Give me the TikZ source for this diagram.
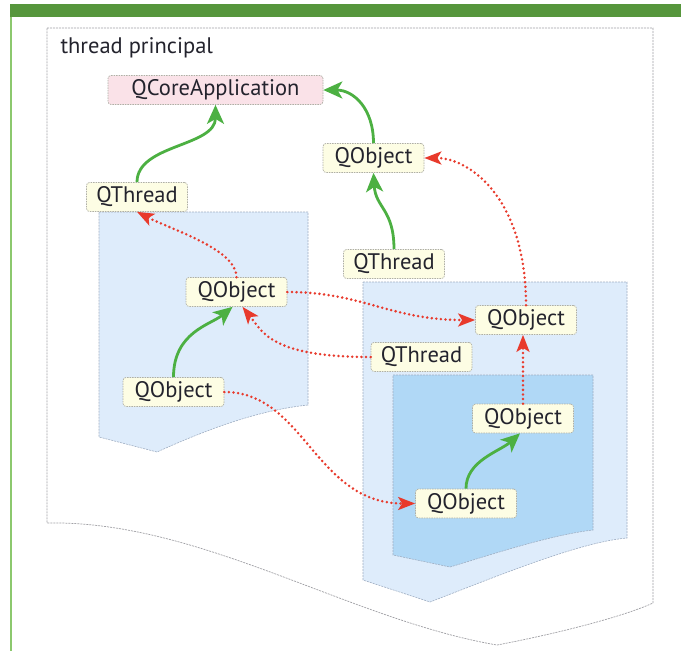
\documentclass[tikz,border=0pt]{standalone}
\usepackage{fontspec}
\setmainfont{PT Sans}
\usetikzlibrary{arrows.meta}

\definecolor{barGreen}{RGB}{86,150,60}
\definecolor{sideGreen}{RGB}{140,200,110}
\definecolor{frameGray}{RGB}{160,160,165}
\definecolor{zoneEdge}{RGB}{160,175,195}
\definecolor{paleBlue}{RGB}{222,236,251}
\definecolor{deepBlue}{RGB}{176,216,246}
\definecolor{boxFill}{RGB}{253,253,228}
\definecolor{appFill}{RGB}{250,226,232}
\definecolor{boxEdge}{RGB}{175,175,165}
\definecolor{inkText}{RGB}{35,35,45}
\definecolor{linkGreen}{RGB}{76,176,66}
\definecolor{linkRed}{RGB}{232,58,44}

\tikzset{
  obj/.style={draw=boxEdge, line width=0.7pt, dash pattern=on 1.5pt off 1pt,
    fill=boxFill, rounded corners=3pt, minimum width=101pt, minimum height=29pt,
    inner sep=0pt, text=inkText, font=\fontsize{22.5}{26}\selectfont},
  zone/.style={draw=zoneEdge, line width=0.6pt, dash pattern=on 2pt off 1pt},
  parent/.style={draw=linkGreen, line width=2.8pt,
    -{Stealth[length=19pt,width=17pt,inset=5pt]}},
  affinity/.style={draw=linkRed, line width=2.8pt, line cap=round,
    dash pattern=on 0pt off 4.6pt,
    -{Stealth[length=17pt,width=13pt,inset=4pt]}},
}

\begin{document}
\begin{tikzpicture}[x=1pt,y=-1pt]
\useasboundingbox (0,0) rectangle (681,651);
\fill[white] (0,0) rectangle (681,651);

% page decoration: green header bar and left rule
\fill[barGreen] (10,4) rectangle (681,17);
\draw[sideGreen, line width=1.5pt] (11,17) -- (11,651);

% main thread frame with wavy bottom
\draw[draw=frameGray, line width=0.7pt, dash pattern=on 2pt off 1pt]
  (47,28) -- (653,28) -- (653,603)
  .. controls (620,618) and (550,635) .. (497,645)
  .. controls (350,620) and (200,520) .. (47,523) -- cycle;
\node[anchor=base west, text=inkText, font=\fontsize{22.5}{26}\selectfont]
  (title) at (57,53) {thread principal};

% thread zones
\fill[paleBlue] (99,212) -- (308,212) -- (308,405)
  .. controls (260,410) and (210,428) .. (157,452) -- (99,437) -- cycle;
\draw[zone] (99,212) -- (308,212) -- (308,405)
  .. controls (260,410) and (210,428) .. (157,452) -- (99,437) -- cycle;

\fill[paleBlue] (363,282) -- (627,282) -- (627,538)
  .. controls (580,542) and (500,575) .. (430,602) -- (363,580) -- cycle;
\draw[zone] (363,282) -- (627,282) -- (627,538)
  .. controls (580,542) and (500,575) .. (430,602) -- (363,580) -- cycle;

\fill[deepBlue] (393,375) -- (593,375) -- (593,530)
  .. controls (550,535) and (490,555) .. (450,567) -- (393,555) -- cycle;
\draw[zone] (393,375) -- (593,375) -- (593,530)
  .. controls (550,535) and (490,555) .. (450,567) -- (393,555) -- cycle;

% objects
\node[obj, fill=appFill, minimum width=215pt] (app) at (215.5,90) {QCoreApplication};
\node[obj] (thrA) at (137,197) {QThread};
\node[obj] (objTop) at (373.5,158) {QObject};
\node[obj] (thrB) at (394,264) {QThread};
\node[obj] (objA) at (236.5,292) {QObject};
\node[obj] (objB) at (173.5,392) {QObject};
\node[obj] (objC) at (526,320) {QObject};
\node[obj] (thrC) at (421.5,357) {QThread};
\node[obj] (objD) at (523,418.5) {QObject};
\node[obj] (objE) at (466,503.5) {QObject};

% parent links
\draw[parent] (thrA.north) .. controls +(0,-38) and +(0,42) .. (app.south);
\draw[parent] (objTop.north) .. controls +(0,-35) and +(30,0) .. (app.east);
\draw[parent] (thrB.north) .. controls +(0,-40) and +(2,35) .. (objTop.south);
\draw[parent] (objB.north) .. controls +(0,-45) and +(-22,18) .. ([xshift=-4pt]objA.south);
\draw[parent] (objE.north) .. controls +(0,-28) and +(-20,18) .. ([xshift=-3pt]objD.south);

% thread affinity links
\draw[affinity] (objA.north) .. controls +(0,-28) and +(35,18) .. (thrA.south);
\draw[affinity] (objA.east) .. controls +(75,0) and +(-85,0) .. (objC.west);
\draw[affinity] (thrC.west) .. controls +(-100,0) and +(20,25) .. ([xshift=6pt]objA.south);
\draw[affinity] (objB.east) .. controls +(80,0) and +(-100,0) .. (objE.west);
\draw[affinity] (objD.north) -- (objD.north |- objC.south);
\draw[affinity] (objC.north) .. controls +(0,-106) and +(46,0) .. (objTop.east);
\end{tikzpicture}
\end{document}
